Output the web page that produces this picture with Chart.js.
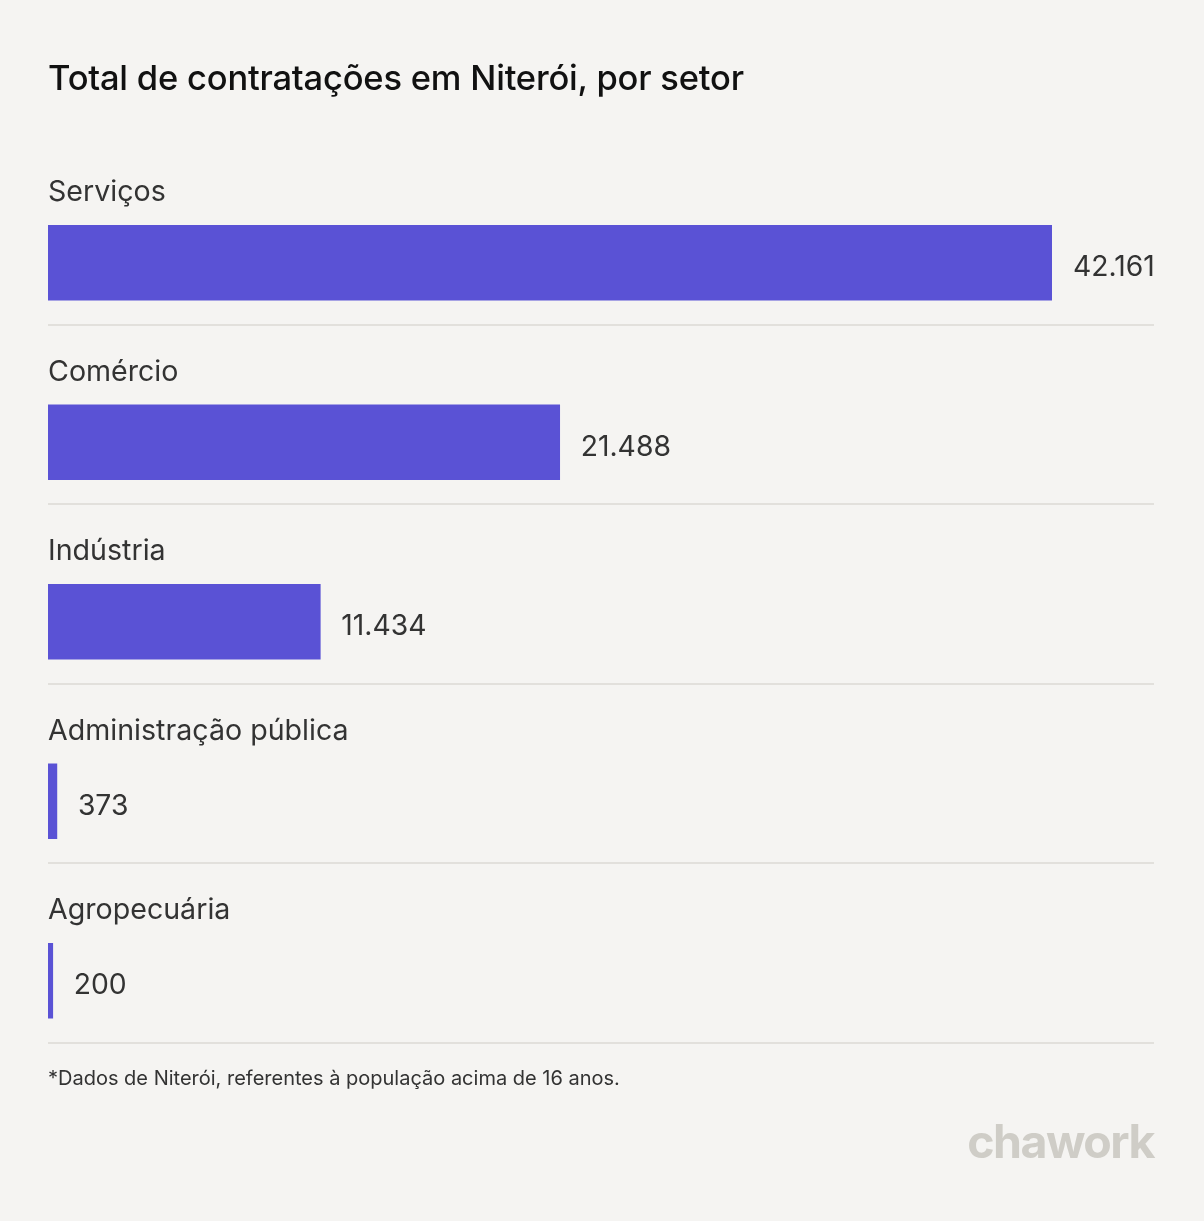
<!DOCTYPE html>
<html>
<head>
<meta charset="utf-8">
<script src="https://cdn.jsdelivr.net/npm/chart.js@4/dist/chart.umd.min.js"></script>
<style>
  html, body { margin: 0; padding: 0; background: #f5f4f2; }
  .wrap { position: relative; width: 1204px; height: 1221px; overflow: hidden; font-family: Inter, "Noto Sans", sans-serif; }
  canvas { position: absolute; left: 0; top: 0; }
  h1 { position: absolute; left: 48px; top: 57px; margin: 0; font-size: 34.5px; font-weight: 500; color: #111; letter-spacing: -0.2px; }
  .nota { position: absolute; left: 48px; top: 1066px; font-size: 20px; color: #333; }
  .logo { position: absolute; right: 50px; top: 1113px; font-size: 46.5px; font-weight: 700; color: #cfcdc7; letter-spacing: -1.5px; }
</style>
</head>
<body>
<div class="wrap">
  <canvas id="grafico" width="1204" height="1221"></canvas>
  <h1>Total de contratações em Niterói, por setor</h1>
  <div class="nota">*Dados de Niterói, referentes à população acima de 16 anos.</div>
  <div class="logo">chawork</div>
</div>
<script>
const setores = ['Serviços', 'Comércio', 'Indústria', 'Administração pública', 'Agropecuária'];
const contratacoes = [42161, 21488, 11434, 373, 200];
const valorMax = 42161;

const fmtNum = n => n.toLocaleString('pt-BR');

// rotulos do setor (acima), valor (a direita) e linha separadora
const rotulosPlugin = {
  id: 'rotulos',
  afterDatasetsDraw(chart) {
    const ctx = chart.ctx;
    const meta = chart.getDatasetMeta(0);
    ctx.save();
    meta.data.forEach((bar, i) => {
      ctx.fillStyle = '#333333';
      ctx.textBaseline = 'middle';
      ctx.textAlign = 'left';
      ctx.font = '400 28.6px Inter, "Noto Sans", sans-serif';
      ctx.fillText(setores[i], chart.chartArea.left, bar.y - 70);
      ctx.font = '400 28.3px Inter, "Noto Sans", sans-serif';
      ctx.fillText(fmtNum(contratacoes[i]), bar.x + 21, bar.y + 5);

      ctx.fillStyle = '#e2e0dc';
      ctx.fillRect(chart.chartArea.left, Math.round(bar.y + 61), 1154 - chart.chartArea.left, 2);
    });
    ctx.restore();
  }
};

new Chart(document.getElementById('grafico'), {
  type: 'bar',
  data: {
    labels: setores,
    datasets: [{ data: contratacoes, backgroundColor: '#5a52d5', barThickness: 75, borderWidth: 0 }]
  },
  options: {
    indexAxis: 'y',
    responsive: false,
    animation: false,
    layout: { padding: { left: 48, right: 152, top: 173, bottom: 150.5 } },
    plugins: { legend: { display: false }, tooltip: { enabled: false } },
    scales: {
      x: { display: false, min: 0, max: valorMax, grid: { display: false } },
      y: { display: false, grid: { display: false } }
    }
  },
  plugins: [rotulosPlugin]
});
</script>
</body>
</html>
